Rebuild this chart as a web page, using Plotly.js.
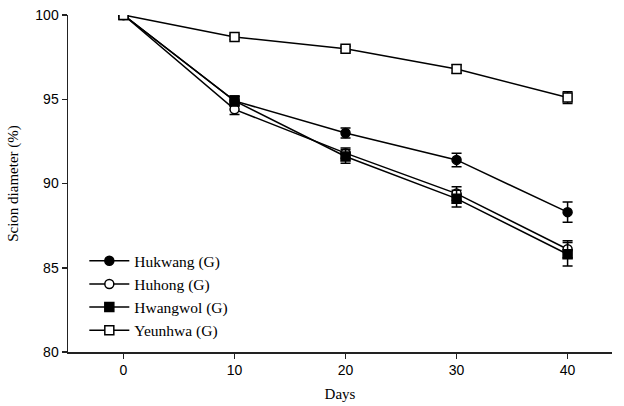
<!DOCTYPE html>
<html><head><meta charset="utf-8">
<script src="https://cdn.plot.ly/plotly-3.0.1.min.js"></script>
<style>html,body{margin:0;padding:0;background:#fff}</style>
</head><body><div id="chart" style="width:624px;height:406px"></div>
<script>
const days = [0, 10, 20, 30, 40];
const seriesNames = ["Hukwang (G)", "Huhong (G)", "Hwangwol (G)", "Yeunhwa (G)"];
const hukwang = [100, 94.9, 93.0, 91.4, 88.3];
const hukwangErr = [0, 0.3, 0.3, 0.4, 0.6];
const huhong = [100, 94.4, 91.8, 89.4, 86.1];
const huhongErr = [0, 0.3, 0.3, 0.4, 0.5];
const hwangwol = [100, 94.9, 91.6, 89.1, 85.8];
const hwangwolErr = [0, 0.3, 0.4, 0.5, 0.7];
const yeunhwa = [100, 98.7, 98.0, 96.8, 95.1];
const yeunhwaErr = [0, 0.15, 0.15, 0.25, 0.35];
const xTicks = [0, 10, 20, 30, 40];
const yTicks = [80, 85, 90, 95, 100];

const symbols = ["circle", "circle-open", "square", "square-open"];
const ys = [hukwang, huhong, hwangwol, yeunhwa];
const errs = [hukwangErr, huhongErr, hwangwolErr, yeunhwaErr];

const traces = ys.map((y, i) => ({
  x: days, y: y, name: seriesNames[i], type: "scatter", mode: "lines+markers",
  line: {color: "#000", width: 1.5},
  marker: {symbol: symbols[i].replace("-open",""), size: 9, color: symbols[i].includes("open") ? "#fff" : "#000",
           line: {color: "#000", width: 1.5}},
  error_y: {type: "data", array: errs[i], visible: true, color: "#000", thickness: 1.5, width: 5}
}));
const layout = {
  width: 624, height: 406,
  margin: {l: 68, r: 12, t: 15, b: 54},
  paper_bgcolor: "#fff", plot_bgcolor: "#fff",
  showlegend: true,
  legend: {x: 0.03, y: 0.167, xanchor: "left", yanchor: "middle", bgcolor: "rgba(0,0,0,0)",
           font: {family: "Liberation Serif", size: 15.5, color: "#000"}, tracegroupgap: 0, itemwidth: 40},
  xaxis: {range: [-5, 44], tickvals: xTicks, ticks: "outside", ticklen: 5, tickwidth: 1.5, tickcolor: "#222",
          showline: true, linecolor: "#222", linewidth: 1.5, showgrid: false, zeroline: false,
          tickfont: {family: "Liberation Sans", size: 14, color: "#000"},
          title: {text: "Days", font: {family: "Liberation Serif", size: 15, color: "#000"}, standoff: 11}},
  yaxis: {range: [80, 100], tickvals: yTicks, ticks: "outside", ticklen: 5, tickwidth: 1.5, tickcolor: "#222",
          showline: true, linecolor: "#222", linewidth: 1.5, showgrid: false, zeroline: false,
          tickfont: {family: "Liberation Sans", size: 14, color: "#000"},
          title: {text: "Scion diameter (%)", font: {family: "Liberation Serif", size: 15, color: "#000"}, standoff: 13}}
};
Plotly.newPlot("chart", traces, layout, {displayModeBar: false, staticPlot: true});
</script></body></html>
